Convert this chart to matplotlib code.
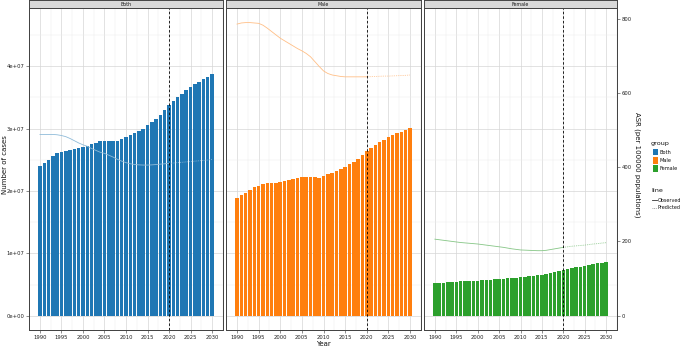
import matplotlib
matplotlib.use("Agg")
import matplotlib.pyplot as plt
from matplotlib.patches import Rectangle
from matplotlib.lines import Line2D
import numpy as np

years = list(range(1990, 2031))
groups = ["Both", "Male", "Female"]
colors = {"Both": "#1f77b4", "Male": "#ff7f0e", "Female": "#2ca02c"}
line_colors = {"Both": "#8fbbd9", "Male": "#ffbf86", "Female": "#86c686"}

cases_both = [2.40, 2.45, 2.50, 2.56, 2.60, 2.63, 2.645, 2.655, 2.67, 2.68,
              2.70, 2.72, 2.75, 2.77, 2.795, 2.805, 2.805, 2.805, 2.805, 2.83,
              2.86, 2.90, 2.93, 2.96, 3.00, 3.05, 3.10, 3.16, 3.22, 3.30,
              3.38, 3.44, 3.50, 3.56, 3.61, 3.66, 3.71, 3.75, 3.79, 3.83, 3.87]
cases_male = [1.88, 1.93, 1.97, 2.01, 2.06, 2.08, 2.11, 2.12, 2.13, 2.13,
              2.14, 2.16, 2.17, 2.19, 2.21, 2.23, 2.23, 2.22, 2.22, 2.21,
              2.24, 2.27, 2.29, 2.32, 2.35, 2.39, 2.425, 2.47, 2.515, 2.58,
              2.645, 2.69, 2.74, 2.785, 2.82, 2.86, 2.90, 2.925, 2.95, 2.98, 3.005]
cases_female = [0.52, 0.525, 0.53, 0.535, 0.54, 0.545, 0.55, 0.553, 0.556, 0.559,
                0.562, 0.567, 0.572, 0.578, 0.583, 0.588, 0.593, 0.598, 0.603, 0.608,
                0.615, 0.622, 0.63, 0.64, 0.65, 0.66, 0.675, 0.69, 0.705, 0.72,
                0.735, 0.75, 0.762, 0.775, 0.788, 0.80, 0.812, 0.825, 0.838, 0.85, 0.865]

asr_both = [488, 488, 488, 488, 487, 485, 482, 477, 471, 465,
            460, 456, 450, 445, 440, 437, 432, 427, 421, 416,
            412, 409, 407, 406, 405.5, 405.5, 406, 407, 408, 409,
            410, 411, 412, 413, 414, 415, 416, 417, 418, 419, 421]
asr_male = [785, 788, 789, 789, 788, 787, 782, 774, 765, 756,
            747, 740, 733, 726, 719, 713, 706, 697, 684, 671,
            659, 652, 648, 646, 644, 643, 643, 643, 643, 643,
            643, 643.5, 644, 644.5, 645, 645, 645.5, 646, 646.5, 647, 648]
asr_female = [206, 204.5, 203, 201.5, 200, 198.5, 197, 196, 195, 194,
              193, 191.5, 190, 188.5, 187, 185.5, 184, 182, 180, 178.5,
              177, 176.5, 176, 175.5, 175, 175, 176, 178, 180, 182,
              184, 185.5, 187, 188, 189, 190, 191.5, 193, 194, 195.5, 196.5]

cases = {"Both": cases_both, "Male": cases_male, "Female": cases_female}
asr = {"Both": asr_both, "Male": asr_male, "Female": asr_female}
obs_end = 2020
xticks = [1990, 1995, 2000, 2005, 2010, 2015, 2020, 2025, 2030]

W, H = 681, 348
fig = plt.figure(figsize=(W / 100, H / 100), dpi=100)

panels_px = [(29, 223), (226, 421), (424, 617)]
top_px, bot_px, strip_px = 8, 330, 0

ylim_cases = (-0.229e7, 4.931e7)
ylim_asr = (-38.5, 828.3)

tick_col = "#333333"
tfs = 3.8
for i, g in enumerate(groups):
    x0, x1 = panels_px[i]
    rect = [x0 / W, 1 - bot_px / H, (x1 - x0) / W, (bot_px - top_px) / H]
    ax = fig.add_axes(rect)
    ax.set_facecolor("white")
    vals = np.array(cases[g]) * 1e7
    ax.bar(years, vals, width=0.82, color=colors[g], edgecolor="none", zorder=2)
    ax.set_xlim(1987.45, 2032.55)
    ax.set_ylim(*ylim_cases)
    ax.set_xticks(xticks)
    ax.set_xticks(np.arange(1987.5, 2033, 2.5), minor=True)
    ax.set_yticks([0, 1e7, 2e7, 3e7, 4e7])
    ax.set_yticks([0.5e7, 1.5e7, 2.5e7, 3.5e7, 4.5e7], minor=True)
    ax.grid(True, which="major", color="#d6d6d6", lw=0.5, zorder=0)
    ax.grid(True, which="minor", color="#ebebeb", lw=0.35, zorder=0)
    ax.set_axisbelow(True)
    ax.tick_params(axis="both", which="major", labelsize=tfs, length=2, width=0.4,
                   color=tick_col, labelcolor="#222222", pad=1.5)
    ax.tick_params(axis="both", which="minor", length=0)
    if i == 0:
        ax.set_yticklabels(["0e+00", "1e+07", "2e+07", "3e+07", "4e+07"])
    else:
        ax.tick_params(axis="y", which="major", length=0, labelleft=False)
    for s in ax.spines.values():
        s.set_color("#444444")
        s.set_linewidth(0.7)

    ax2 = ax.twinx()
    ax2.set_ylim(*ylim_asr)
    ax2.set_xlim(1987.45, 2032.55)
    yo = [v for y, v in zip(years, asr[g]) if y <= obs_end]
    xo = [y for y in years if y <= obs_end]
    yp = [v for y, v in zip(years, asr[g]) if y >= obs_end]
    xp = [y for y in years if y >= obs_end]
    ax2.plot(xo, yo, color=line_colors[g], lw=0.6, zorder=3)
    ax2.plot(xp, yp, color=line_colors[g], lw=0.6, ls=(0, (1, 1.2)), zorder=3)
    ax2.axvline(2020, color="black", lw=0.6, ls=(0, (3, 2.5)), zorder=4)
    ax2.set_yticks([0, 200, 400, 600, 800])
    if i == 2:
        ax2.tick_params(axis="y", labelsize=tfs, length=2, width=0.4, color=tick_col,
                        labelcolor="#222222", pad=1.5)
    else:
        ax2.tick_params(axis="y", length=0, labelright=False)
    for s in ax2.spines.values():
        s.set_color("#444444")
        s.set_linewidth(0.7)

    # strip
    sax = fig.add_axes([x0 / W, 1 - top_px / H, (x1 - x0) / W, (top_px - strip_px) / H])
    sax.set_facecolor("#d9d9d9")
    sax.set_xticks([])
    sax.set_yticks([])
    for s in sax.spines.values():
        s.set_color("#444444")
        s.set_linewidth(0.7)
    sax.text(0.5, 0.5, g, ha="center", va="center", fontsize=3.4, color="#1a1a1a",
             transform=sax.transAxes)

# axis titles
fig.text(5 / W, 1 - 165 / H, "Number of cases", rotation=90, ha="center", va="center",
         fontsize=5, color="#111111")
fig.text(637 / W, 1 - 165 / H, "ASR (per 100000 populations)", rotation=270,
         ha="center", va="center", fontsize=5, color="#111111")
fig.text(323 / W, 1 - 344 / H, "Year", ha="center", va="center", fontsize=5,
         color="#111111")

# legend
fig.text(651 / W, 1 - 143 / H, "group", ha="left", va="center", fontsize=4.6, color="#111111")
for j, g in enumerate(groups):
    yc = 152 + j * 8.2
    fig.patches.append(Rectangle((652.5 / W, 1 - (yc + 3.3) / H), 5.5 / W, 6.6 / H,
                                 transform=fig.transFigure, facecolor=colors[g],
                                 edgecolor="none"))
    fig.text(660 / W, 1 - yc / H, g, ha="left", va="center", fontsize=3.6, color="#111111")

fig.text(651 / W, 1 - 190 / H, "line", ha="left", va="center", fontsize=4.6, color="#111111")
for j, (lab, ls, c) in enumerate([("Observed", "-", "#333333"), ("Predicted", (0, (1, 1)), "#888888")]):
    yc = 200 + j * 7.7
    fig.lines.append(Line2D([651.5 / W, 657 / W], [1 - yc / H, 1 - yc / H],
                            transform=fig.transFigure, color=c, lw=0.6, ls=ls))
    fig.text(657.5 / W, 1 - yc / H, lab, ha="left", va="center", fontsize=3.5, color="#111111")

fig.savefig("out.png", dpi=100)
